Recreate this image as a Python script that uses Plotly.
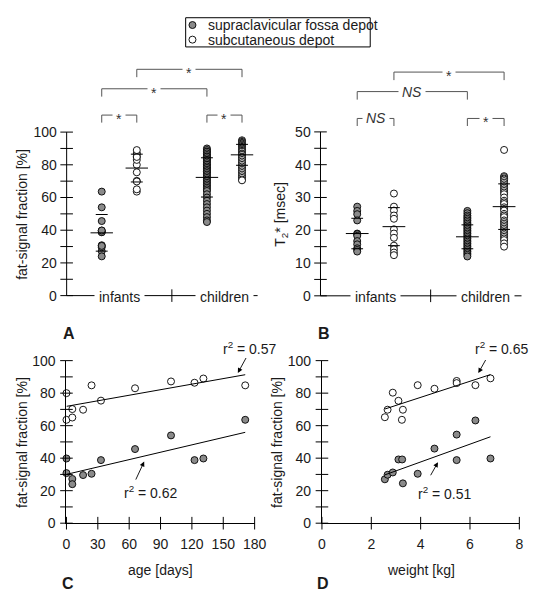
import numpy as np
import plotly.graph_objects as go

W, H = 560, 600
FONT = "Liberation Sans, Arial, sans-serif"
INK = "#1a1a1a"
GRAY = "#8a8a8a"

# ------------------------------------------------------------------ data
depots = ["supraclavicular fossa depot", "subcutaneous depot"]
groups = ["infants", "children"]

# Panel A: fat-signal fraction [%] by group
ff_inf_supra = [39.8, 30.8, 27.2, 24.0, 29.6, 30.4, 38.8, 45.6, 54.0, 38.8, 39.8, 63.6]
ff_inf_sub = [80.0, 63.6, 70.2, 65.0, 69.8, 84.8, 75.4, 83.0, 87.2, 86.4, 89.0, 84.8]
ff_ch_supra = [90, 89, 88, 88, 87, 86, 85, 85, 84, 83, 83, 82, 81, 80, 80, 79, 78, 78,
               77, 76, 76, 75, 74, 73, 72, 71, 70, 69, 68, 67, 66, 65, 64, 62, 60, 58,
               56, 54, 52, 50, 48, 46, 45]
ff_ch_sub = [95, 94.5, 94, 93.5, 93, 92.5, 92, 91.5, 91, 90.5, 90, 89.5, 89, 88.5, 88,
             87, 86.5, 86, 85, 84.5, 84, 83, 82, 81, 80, 79, 78, 77, 76, 75, 74, 73,
             72, 71, 70.5]
ff_means = [38.4, 78.0, 72.3, 86.1]
ff_sds = [11.2, 8.5, 12.0, 6.4]
ff_tests = ["*", "*", "*", "*"]   # inf supra-sub, ch supra-sub, supra inf-ch, sub inf-ch

# Panel B: T2* [msec] by group
t2_inf_supra = [27.2, 25.9, 24.9, 23.0, 19.0, 18.8, 18.3, 16.7, 15.7, 14.5, 14.0, 13.5]
t2_inf_sub = [31.2, 27.2, 26.0, 24.5, 23.5, 20.3, 19.0, 17.7, 15.3, 14.2, 13.2, 12.4]
t2_ch_supra = [25.9, 25.2, 24.5, 24, 23.5, 23, 22.5, 22, 21.5, 21, 20.5, 20, 19.5, 19,
               18.5, 18, 17.5, 17, 16.5, 16, 15.5, 15, 14.5, 14, 13.5, 13, 12.5, 12]
t2_ch_sub = [44.5, 36.5, 36.2, 35.8, 35.5, 35, 34.5, 34, 33.5, 33, 32.5, 32, 31.5, 31,
             30, 29, 28.5, 28, 27, 26.5, 26, 25, 24.5, 24, 23, 22.5, 22, 21.5, 21, 20.5,
             20, 19.5, 19, 18.5, 18, 17.5, 17, 16, 15]
t2_means = [19.0, 21.1, 18.0, 27.2]
t2_sds = [4.65, 5.8, 3.65, 6.95]
t2_tests = ["NS", "*", "NS", "*"]

# Panel C: fat-signal fraction vs age (infants)
age_supra = [0, 0, 5.6, 5.6, 15.9, 24, 33, 65.6, 100, 122.5, 131, 171]
ff_age_supra = [39.8, 30.8, 27.2, 24.0, 29.6, 30.4, 38.8, 45.6, 54.0, 38.8, 39.8, 63.6]
age_sub = [0, 0, 5.6, 5.6, 15.9, 24, 33, 65.6, 100, 122.5, 131, 171]
ff_age_sub = [80.0, 63.6, 70.2, 65.0, 69.8, 84.8, 75.4, 83.0, 87.2, 86.4, 89.0, 84.8]
r2_age = ["0.62", "0.57"]

# Panel D: fat-signal fraction vs weight (infants)
wt_supra = [2.55, 2.66, 2.87, 3.10, 3.25, 3.28, 3.88, 4.56, 5.46, 5.46, 6.22, 6.83]
ff_wt_supra = [27.0, 29.8, 31.2, 39.2, 39.2, 24.5, 30.4, 45.9, 54.5, 38.8, 63.2, 39.8]
wt_sub = [2.55, 2.66, 2.87, 3.10, 3.24, 3.28, 3.88, 4.56, 5.46, 5.46, 6.22, 6.83]
ff_wt_sub = [65.2, 69.8, 80.3, 75.3, 63.6, 69.8, 84.9, 82.7, 87.5, 86.2, 84.9, 89.1]
r2_wt = ["0.51", "0.65"]

# ------------------------------------------------------------------ geometry
def lin(p0, v0, p1, v1):
    s = (p1 - p0) / (v1 - v0)
    return lambda v: p0 + (v - v0) * s

A_px_x = lin(64.5, 0, 245.0, 5)
A_px_y = lin(295.5, 0, 127.5, 100)
B_px_x = lin(325.8, 0, 514.8, 5)
B_px_y = lin(295.7, 0, 127.3, 50)
C_px_x = lin(64.3, 0, 258.0, 180)
CD_px_y = lin(529.3, 0, 362.3, 100)
D_px_x = lin(327.3, 0, 530.5, 8)

A_xr, A_yr = [-0.5, 5.45], [-6, 142]
B_xr, B_yr = [-0.5, 5.48], [-3, 71]
C_xr, C_yr = [0, 180], [0, 100]
D_xr, D_yr = [0, 8], [0, 100]


def xd(f, r):
    return [f(r[0]) / W, f(r[1]) / W]


def yd(f, r):
    return [1 - f(r[0]) / H, 1 - f(r[1]) / H]


def px(x, y):
    return x / W, 1 - y / H


MK_SUPRA = dict(symbol="circle", size=7, color=GRAY, line=dict(color="black", width=0.9))
MK_SUB = dict(symbol="circle", size=7, color="white", line=dict(color="black", width=0.9))

fig = go.Figure()
annotations = []
shapes = []


def cross_ticks(xs, ys, symbol, xa, ya, size=9):
    fig.add_trace(go.Scatter(
        x=xs, y=ys, mode="markers", xaxis=xa, yaxis=ya, cliponaxis=False,
        marker=dict(symbol=symbol, size=size, color="black",
                    line=dict(color="black", width=1)),
        hoverinfo="skip", showlegend=False))


# ------------------------------------------------------------------ strip panels
col_x = [1, 2, 4, 5]
col_style = [MK_SUPRA, MK_SUB, MK_SUPRA, MK_SUB]


def strip_panel(sets, means, sds, tests, xa, ya, xmax, yline, brk, minor_step,
                mean_hw, sd_hw):
    for vals, xc, st in zip(sets, col_x, col_style):
        fig.add_trace(go.Scatter(
            x=[xc] * len(vals), y=vals, mode="markers", marker=st,
            xaxis=xa, yaxis=ya, cliponaxis=False, showlegend=False))
    lx, ly = [], []
    for xc, m, s in zip(col_x, means, sds):
        lx += [xc - mean_hw, xc + mean_hw, None, xc - sd_hw, xc + sd_hw, None,
               xc - sd_hw, xc + sd_hw, None]
        ly += [m, m, None, m + s, m + s, None, m - s, m - s, None]
    fig.add_trace(go.Scatter(x=lx, y=ly, mode="lines", xaxis=xa, yaxis=ya,
                             line=dict(color="black", width=1), showlegend=False,
                             hoverinfo="skip"))
    # axis lines
    shapes.append(dict(type="line", xref=xa, yref=ya, x0=0, x1=0, y0=0, y1=yline,
                       line=dict(color="black", width=1)))
    shapes.append(dict(type="line", xref=xa, yref=ya, x0=0, x1=xmax, y0=0, y1=0,
                       line=dict(color="black", width=1)))
    ticks = list(np.arange(0, yline + 1e-9, minor_step))
    cross_ticks([0] * len(ticks), ticks, "line-ew", xa, ya)
    cross_ticks([3], [0], "line-ns", xa, ya)
    for g, gx in zip(groups, [1.5, 4.5]):
        annotations.append(dict(text=g, x=gx, y=0, xref=xa, yref=ya, showarrow=False,
                                xanchor="center", yanchor="middle",
                                bgcolor="white", borderpad=4, yshift=-1,
                                font=dict(family=FONT, size=14, color=INK)))
    pairs = [(1, 2, brk[0]), (4, 5, brk[0]), (1, 4, brk[1]), (2, 5, brk[2])]
    for (a, b, (yb, d)), t in zip(pairs, tests):
        shapes.append(dict(type="path", xref=xa, yref=ya,
                           path=f"M {a},{yb - d} L {a},{yb} L {b},{yb} L {b},{yb - d}",
                           line=dict(color="#555555", width=1)))
        txt = "<i>NS</i>" if t == "NS" else t
        annotations.append(dict(text=txt, x=(a + b) / 2, y=yb, xref=xa, yref=ya,
                                showarrow=False, bgcolor="white", borderpad=3,
                                xanchor="center", yanchor="middle",
                                yshift=(0 if t == "NS" else -4),
                                font=dict(family=FONT, size=14, color="#333333")))


strip_panel([ff_inf_supra, ff_inf_sub, ff_ch_supra, ff_ch_sub], ff_means, ff_sds,
            ff_tests, "x", "y", A_xr[1], 100,
            [(110.4, 4.6), (126.5, 4.8), (138.4, 4.8)], 10, 0.32, 0.17)
strip_panel([t2_inf_supra, t2_inf_sub, t2_ch_supra, t2_ch_sub], t2_means, t2_sds,
            t2_tests, "x2", "y2", B_xr[1], 50,
            [(54.1, 2.3), (62.3, 2.45), (68.25, 2.45)], 5, 0.31, 0.16)

# ------------------------------------------------------------------ scatter panels


def scatter_panel(xs_list, ys_list, xa, ya, xticks, r2s, r2_pos, arrows):
    for xs, ys, st in zip(xs_list, ys_list, [MK_SUPRA, MK_SUB]):
        fig.add_trace(go.Scatter(x=xs, y=ys, mode="markers", marker=st,
                                 xaxis=xa, yaxis=ya, cliponaxis=False,
                                 showlegend=False))
    for xs, ys in zip(xs_list, ys_list):
        k, c = np.polyfit(xs, ys, 1)
        x0, x1 = min(xs), max(xs)
        fig.add_trace(go.Scatter(x=[x0, x1], y=[k * x0 + c, k * x1 + c], mode="lines",
                                 xaxis=xa, yaxis=ya, line=dict(color="black", width=1),
                                 showlegend=False, hoverinfo="skip"))
    yt = list(range(0, 101, 10))
    cross_ticks([0] * len(yt), yt, "line-ew", xa, ya)
    cross_ticks(xticks, [0] * len(xticks), "line-ns", xa, ya)
    for r2, (tx, ty) in zip(r2s, r2_pos):
        x, y = px(tx, ty)
        annotations.append(dict(text=f"r<sup>2</sup> = {r2}", x=x, y=y, xref="paper",
                                yref="paper", showarrow=False,
                                xanchor="center", yanchor="middle",
                                font=dict(family=FONT, size=14, color=INK)))
    for (tx, ty, hx, hy) in arrows:
        x, y = px(hx, hy)
        annotations.append(dict(text=" ", x=x, y=y, xref="paper", yref="paper",
                                showarrow=True, ax=tx - hx, ay=ty - hy,
                                arrowhead=2, arrowsize=1.1, arrowwidth=0.9,
                                arrowcolor="black", standoff=0, startstandoff=0,
                                font=dict(size=1)))


scatter_panel([age_supra, age_sub], [ff_age_supra, ff_age_sub], "x3", "y3",
              list(range(0, 181, 30)), r2_age, [(151.5, 497), (253.5, 349)],
              [(135, 486, 144.3, 466), (250, 358, 240.7, 375)])
scatter_panel([wt_supra, wt_sub], [ff_wt_supra, ff_wt_sub], "x4", "y4",
              list(range(0, 9, 2)), r2_wt, [(454, 498), (512.5, 349)],
              [(438.3, 481.7, 446.7, 466.7), (496.7, 360, 488.3, 375)])

# ------------------------------------------------------------------ legend
for st, yy in zip([MK_SUPRA, MK_SUB], [17.5, 32.5]):
    fig.add_trace(go.Scatter(x=[194], y=[yy], mode="markers", marker=st,
                             xaxis="x5", yaxis="y5", cliponaxis=False,
                             showlegend=False, hoverinfo="skip"))
for name, yy in zip(depots, [17.5, 32.5]):
    annotations.append(dict(text=name, x=208, y=yy, xref="x5", yref="y5",
                            xanchor="left", yanchor="middle", showarrow=False,
                            font=dict(family=FONT, size=14, color=INK)))
shapes.append(dict(type="rect", xref="x5 domain", yref="y5 domain", x0=0, x1=1,
                   y0=0, y1=1, line=dict(color="black", width=1)))

# ------------------------------------------------------------------ titles / labels
def text_at(t, x, y, size=14, angle=0, bold=False):
    xx, yy = px(x, y)
    annotations.append(dict(text=(f"<b>{t}</b>" if bold else t), x=xx, y=yy,
                            xref="paper", yref="paper", showarrow=False,
                            xanchor="center", yanchor="middle",
                            textangle=angle,
                            font=dict(family=FONT, size=size, color=INK)))


text_at("fat-signal fraction [%]", 18.5, 211.5, angle=-90)
text_at("T<sub>2</sub>* [msec]", 285, 211.5, angle=-90)
text_at("fat-signal fraction [%]", 18.5, 445.8, angle=-90)
text_at("fat-signal fraction [%]", 281, 445.8, angle=-90)
text_at("age [days]", 161, 577)
text_at("weight [kg]", 429, 577)
text_at("A", 67, 334, size=16, bold=True)
text_at("B", 329, 334, size=16, bold=True)
text_at("C", 66, 591, size=16, bold=True)
text_at("D", 328.5, 591, size=16, bold=True)

# ------------------------------------------------------------------ axes
tickfont = dict(family=FONT, size=14, color=INK)
base = dict(showgrid=False, zeroline=False, tickfont=tickfont, ticks="outside",
            tickcolor="rgba(0,0,0,0)", fixedrange=True)

fig.update_layout(
    width=W, height=H, autosize=False,
    margin=dict(l=0, r=0, t=0, b=0),
    paper_bgcolor="white", plot_bgcolor="white",
    showlegend=False,
    xaxis=dict(domain=xd(A_px_x, A_xr), range=A_xr, visible=False, anchor="y"),
    yaxis=dict(domain=yd(A_px_y, A_yr), range=A_yr, anchor="free",
               position=A_px_x(0) / W, tickvals=list(range(0, 101, 20)),
               ticklen=7, showline=False, **base),
    xaxis2=dict(domain=xd(B_px_x, B_xr), range=B_xr, visible=False, anchor="y2"),
    yaxis2=dict(domain=yd(B_px_y, B_yr), range=B_yr, anchor="free",
                position=B_px_x(0) / W, tickvals=list(range(0, 51, 10)),
                ticklen=7, showline=False, **base),
    xaxis3=dict(domain=xd(C_px_x, C_xr), range=C_xr, anchor="y3",
                tickvals=list(range(0, 181, 30)), ticklen=8, showline=True,
                linecolor="black", linewidth=1, **base),
    yaxis3=dict(domain=yd(CD_px_y, C_yr), range=C_yr, anchor="x3",
                tickvals=list(range(0, 101, 20)), ticklen=7, showline=True,
                linecolor="black", linewidth=1, **base),
    xaxis4=dict(domain=xd(D_px_x, D_xr), range=D_xr, anchor="y4",
                tickvals=list(range(0, 9, 2)), ticklen=8, showline=True,
                linecolor="black", linewidth=1, **base),
    yaxis4=dict(domain=yd(CD_px_y, D_yr), range=D_yr, anchor="x4",
                tickvals=list(range(0, 101, 20)), ticklen=7, showline=True,
                linecolor="black", linewidth=1, **base),
    xaxis5=dict(domain=[187 / W, 377 / W], range=[187, 377], visible=False,
                anchor="y5", fixedrange=True),
    yaxis5=dict(domain=[1 - 40 / H, 1 - 10 / H], range=[40, 10], visible=False,
                anchor="x5", fixedrange=True),
    annotations=annotations,
    shapes=shapes,
)

fig.write_html(
    "out.html",
    config={"displayModeBar": False},
    post_script="document.body.style.margin='0';document.body.style.padding='0';"
                "document.documentElement.style.overflow='hidden';"
                "document.body.style.overflow='hidden';",
)
